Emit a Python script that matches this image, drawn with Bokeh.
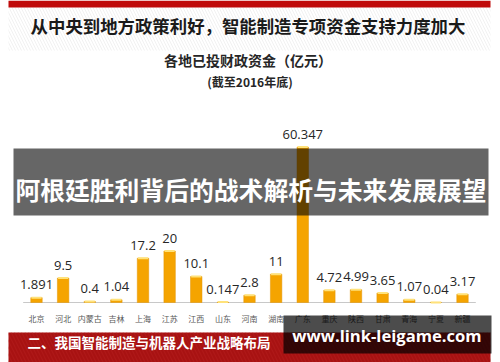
from bokeh.plotting import figure
from bokeh.models import Range1d, Label, BoxAnnotation, ColumnDataSource
from bokeh.embed import file_html
from bokeh.resources import INLINE

# ---- data ----
categories = ["北京", "河北", "内蒙古", "吉林", "上海", "江苏", "江西", "山东", "河南",
              "湖南", "广东", "重庆", "陕西", "甘肃", "青海", "宁夏", "新疆"]
values = [1.891, 9.5, 0.4, 1.04, 17.2, 20, 10.1, 0.147, 2.8,
          11, 60.347, 4.72, 4.99, 3.65, 1.07, 0.04, 3.17]
value_labels = ["1.891", "9.5", "0.4", "1.04", "17.2", "20", "10.1", "0.147", "2.8",
                "11", "60.347", "4.72", "4.99", "3.65", "1.07", "0.04", "3.17"]

title_text = "从中央到地方政策利好，智能制造专项资金支持力度加大"
subtitle_text = "各地已投财政资金（亿元）"
note_text = "(截至2016年底)"
overlay_text = "阿根廷胜利背后的战术解析与未来发展展望"
footer_text = "二、我国智能制造与机器人产业战略布局"
watermark_text = "www.link-leigame.com"

idx = list(range(len(categories)))
src = ColumnDataSource(dict(x=idx, top=values, lab=value_labels, cat=categories,
                            zero=[0] * len(idx)))

W, H = 500, 362
p = figure(width=W, height=H, output_backend="svg", toolbar_location=None,
           x_range=Range1d(-1.3521, 17.427), y_range=Range1d(-23.30, 117.28),
           x_axis_location=None, y_axis_location=None, min_border=0)
p.grid.visible = False
p.outline_line_color = None
p.background_fill_color = "white"
p.border_fill_color = "white"

CJK = "Noto Sans CJK SC"


def box(l, r, b, t, **kw):
    p.add_layout(BoxAnnotation(left=l, right=r, bottom=b, top=t,
                               left_units="screen", right_units="screen",
                               bottom_units="screen", top_units="screen",
                               line_color=None, **kw))


# faint hatch behind the title and the red top band
box(8, 490, 312, 355, fill_color="white", fill_alpha=0,
    hatch_pattern="\\", hatch_color="#e8e8e8", hatch_alpha=0.6, hatch_scale=6, hatch_weight=1)
box(8, 490, 355, 362, fill_color="#C00A0A", fill_alpha=1)

# baseline
p.segment(x0=[-0.5], x1=[len(categories) - 0.5], y0=[0], y1=[0],
          line_color="#c8c8c8", line_width=1)

# bars
p.vbar(x="x", top="top", bottom=0, width=0.43, source=src,
       fill_color="#F5A400", line_color="#E39400", line_width=0.5)
p.segment(x0=[i - 0.19 for i in idx], x1=[i + 0.19 for i in idx], y0=values, y1=values,
          line_color="#FFE27A", line_width=2)

# value labels
p.text(x="x", y="top", text="lab", source=src, y_offset=-13,
       text_align="center", text_baseline="middle",
       text_font={"value": "Open Sans"}, text_font_size="13px", text_color="#262626")

# category labels
p.text(x="x", y="zero", text="cat", source=src, y_offset=16,
       text_align="center", text_baseline="middle",
       text_font={"value": CJK}, text_font_size="8px", text_color="#595959")

# titles
p.add_layout(Label(x=247.5, y=337, x_units="screen", y_units="screen", text=title_text,
                   text_align="center", text_baseline="middle", text_font=CJK,
                   text_font_size="17.4px", text_font_style="bold", text_color="#1a1a1a"))
p.add_layout(Label(x=247.5, y=303, x_units="screen", y_units="screen", text=subtitle_text,
                   text_align="center", text_baseline="middle", text_font=CJK,
                   text_font_size="14px", text_font_style="bold", text_color="#262626"))
p.add_layout(Label(x=249.5, y=281, x_units="screen", y_units="screen", text=note_text,
                   text_align="center", text_baseline="middle", text_font=CJK,
                   text_font_size="12px", text_font_style="bold", text_color="#262626"))

# overlay band
box(13, 488, 147, 214, fill_color="black", fill_alpha=0.6)
p.add_layout(Label(x=250.5, y=174, x_units="screen", y_units="screen", text=overlay_text,
                   text_align="center", text_baseline="middle", text_font=CJK,
                   text_font_size="24.8px", text_font_style="bold", text_color="white"))

# footer band
box(8, 490, 0, 30, fill_color="#A81212", fill_alpha=1,
    hatch_pattern="\\", hatch_color="#B82020", hatch_alpha=0.5, hatch_scale=7, hatch_weight=1)
p.add_layout(Label(x=27, y=21, x_units="screen", y_units="screen", text=footer_text,
                   text_align="left", text_baseline="middle", text_font=CJK,
                   text_font_size="13.5px", text_font_style="bold", text_color="white"))

# watermark
box(283, 491, 9, 47, fill_color="black", fill_alpha=0.7)
p.add_layout(Label(x=386.5, y=27, x_units="screen", y_units="screen", text=watermark_text,
                   text_align="center", text_baseline="middle", text_font="Open Sans",
                   text_font_size="16.6px", text_font_style="bold", text_color="white"))

open("out.html", "w").write(file_html(p, INLINE))
